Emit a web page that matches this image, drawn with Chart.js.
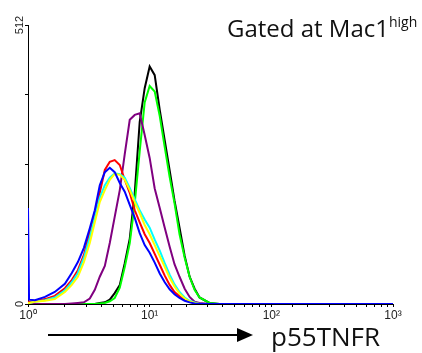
<!DOCTYPE html>
<html>
<head>
<meta charset="utf-8">
<script src="https://cdn.jsdelivr.net/npm/chart.js@4"></script>
<style>
    html, body { margin: 0; padding: 0; background: #fff; }
    #wrap { position: relative; width: 422px; height: 353px; overflow: hidden; }
    #chart { position: absolute; left: 0; top: 0; }
    .title {
        position: absolute; left: 227px; top: 16px;
        font-family: 'Open Sans', sans-serif; font-size: 24px; line-height: 24px;
        color: #111; white-space: nowrap;
    }
    .title span { font-size: 14px; position: relative; top: -10px; }
    .xlabel {
        position: absolute; left: 271px; top: 323px;
        font-family: 'Open Sans', sans-serif; font-size: 26px; line-height: 26px;
        color: #111; white-space: nowrap;
    }
    #arrow { position: absolute; left: 0; top: 0; }
</style>
</head>
<body>
<div id="wrap">
    <canvas id="chart" width="422" height="353"></canvas>
    <div class="title">Gated at Mac1<span>high</span></div>
    <svg id="arrow" width="422" height="353">
        <line x1="48" y1="335" x2="240" y2="335" stroke="#000" stroke-width="2"/>
        <polygon points="237,328 253,335 237,342" fill="#000"/>
    </svg>
    <div class="xlabel">p55TNFR</div>
</div>
<script>
// Fluorescence intensity (log channel centres) and cell counts
const intensity = [1.00, 1.02, 1.14, 1.38, 1.66, 2.01, 2.29, 2.57, 2.88, 3.22, 3.54, 3.89, 4.28, 4.70, 5.16, 5.68,
    6.24, 6.86, 7.54, 8.28, 9.10, 10.0, 11.0, 12.1, 13.3, 14.6, 16.0, 17.6, 19.4, 21.3, 23.4, 25.7, 31.0, 37.5, 54.7, 1000];

const blueCounts   = [176, 8, 7, 13, 22, 37, 57, 77, 103, 139, 172, 218, 242, 250, 242, 222, 206, 182, 158, 130, 108, 94, 76, 56, 40, 27, 18, 11, 6, 3, 1, 0, 0, 0, 0, 0];
const yellowCounts = [2, 2, 4, 6, 9, 22, 35, 50, 77, 112, 150, 187, 209, 228, 239, 237, 228, 209, 187, 167, 145, 128, 108, 88, 68, 48, 32, 19, 10, 5, 2, 0, 0, 0, 0, 0];
const cyanCounts   = [2, 2, 4, 7, 12, 25, 40, 57, 85, 122, 158, 195, 218, 232, 240, 238, 232, 213, 192, 172, 155, 140, 118, 98, 75, 54, 36, 22, 12, 6, 3, 0, 0, 0, 0, 0];
const redCounts    = [4, 4, 5, 9, 15, 29, 44, 62, 90, 132, 163, 204, 246, 261, 264, 255, 228, 204, 172, 150, 128, 112, 92, 72, 52, 35, 22, 14, 8, 4, 2, 0, 0, 0, 0, 0];
const purpleCounts = [0, 0, 0, 0, 0, 0, 1, 2, 3, 10, 26, 50, 70, 112, 160, 209, 275, 338, 347, 350, 310, 268, 212, 176, 140, 105, 73, 50, 28, 13, 4, 2, 0, 0, 0, 0];
const greenCounts  = [0, 0, 0, 0, 0, 0, 0, 0, 0, 0, 0, 1, 2, 5, 11, 30, 68, 112, 185, 280, 370, 400, 390, 345, 288, 233, 185, 128, 85, 50, 26, 12, 2, 0, 0, 0];
const blackCounts  = [0, 0, 0, 0, 0, 0, 0, 0, 0, 0, 0, 2, 3, 8, 20, 35, 75, 120, 204, 334, 396, 436, 420, 356, 300, 245, 190, 140, 88, 50, 28, 12, 2, 0, 0, 0];

const xTickValues = [1, 10, 100, 1000];
const xTickLabels = ['10\u2070', '10\u00B9', '10\u00B2', '10\u00B3'];
const yLabelled = [0, 512];

// first entry is drawn on top
const series = [
    { data: blueCounts, color: '#0000ff' },
    { data: yellowCounts, color: '#ffff00' },
    { data: cyanCounts, color: '#00ffff' },
    { data: redCounts, color: '#ff0000' },
    { data: purpleCounts, color: '#800080' },
    { data: greenCounts, color: '#00ff00' },
    { data: blackCounts, color: '#000000' }
];

document.addEventListener('DOMContentLoaded', function() {
    const ctx = document.getElementById('chart');

    new Chart(ctx, {
        type: 'line',
        data: {
            datasets: series.map(s => ({
                data: s.data.map((v, i) => ({ x: intensity[i], y: v })),
                borderColor: s.color,
                borderWidth: 2,
                pointRadius: 0,
                tension: 0,
                fill: false
            }))
        },
        options: {
            responsive: false,
            devicePixelRatio: 1,
            animation: false,
            layout: { padding: { top: 25, right: 29, left: 0, bottom: 0 } },
            plugins: { legend: { display: false }, tooltip: { enabled: false } },
            scales: {
                x: {
                    type: 'logarithmic',
                    min: 1,
                    max: 1000,
                    afterFit: scale => { scale.height = 49; },
                    grid: { drawOnChartArea: false, drawTicks: true, tickLength: 3, color: '#000' },
                    border: { color: '#000', width: 1 },
                    ticks: {
                        autoSkip: false,
                        maxRotation: 0,
                        padding: 1,
                        color: '#222',
                        font: { family: "'Liberation Sans', Arial, sans-serif", size: 12 },
                        callback: value => {
                            const i = xTickValues.indexOf(value);
                            return i >= 0 ? xTickLabels[i] : '';
                        }
                    }
                },
                y: {
                    min: 0,
                    max: 512,
                    afterFit: scale => { scale.width = 28; },
                    grid: { drawOnChartArea: false, drawTicks: true, tickLength: 3, color: '#000' },
                    border: { color: '#000', width: 1 },
                    ticks: {
                        stepSize: 128,
                        minRotation: 90,
                        maxRotation: 90,
                        crossAlign: 'center',
                        padding: -4,
                        color: '#222',
                        font: { family: "'Liberation Sans', Arial, sans-serif", size: 11 },
                        callback: value => yLabelled.includes(value) ? String(value) : ''
                    }
                }
            }
        }
    });
});
</script>
</body>
</html>
